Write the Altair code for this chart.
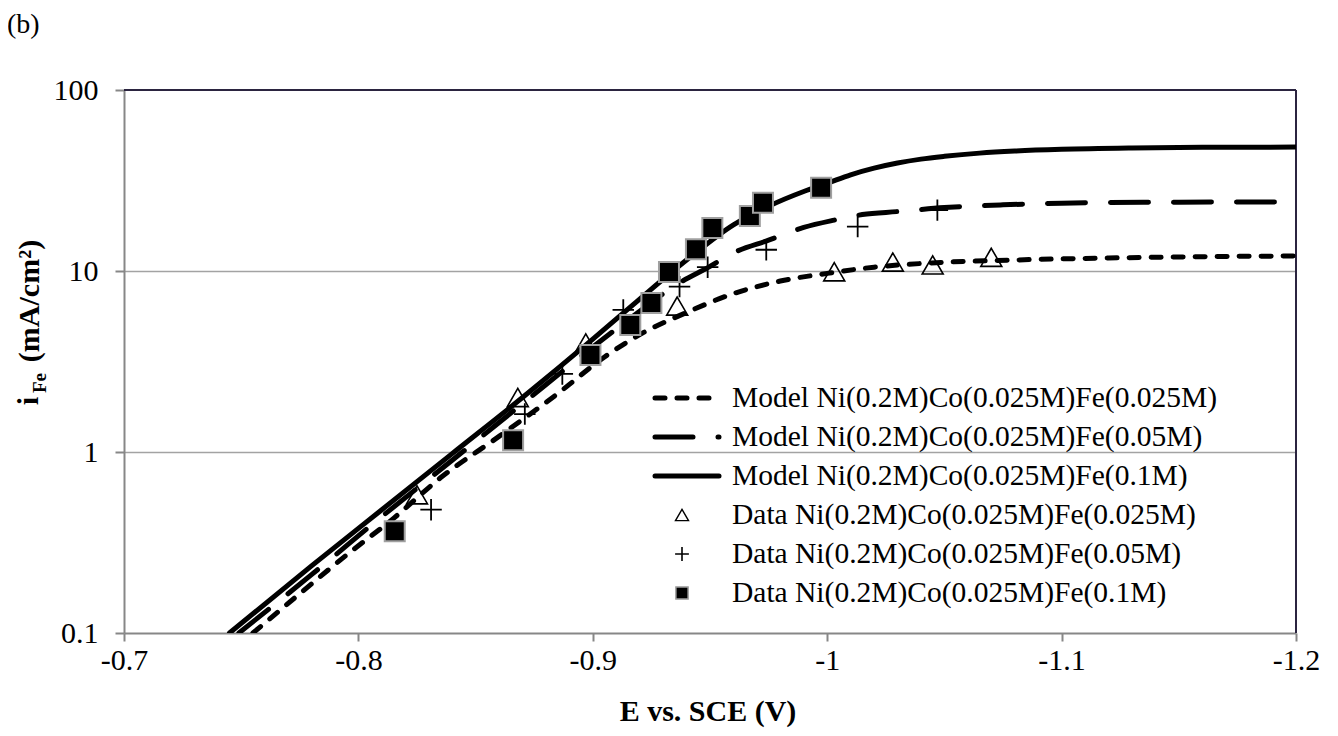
import altair as alt
import pandas as pd

# ---------------- data ----------------
# Model curves (E in V vs SCE, i_Fe in mA/cm2)
model_025_E = [-0.755, -0.775, -0.795, -0.815, -0.835, -0.86, -0.885, -0.905, -0.92, -0.94,
               -0.96, -0.98, -1.00, -1.02, -1.04, -1.08, -1.12, -1.16, -1.20]
model_025_i = [0.10, 0.165, 0.27, 0.43, 0.72, 1.22, 2.1, 3.35, 4.45, 5.9,
               7.5, 8.8, 9.7, 10.5, 11.0, 11.5, 11.8, 12.0, 12.1]

model_05_E = [-0.749, -0.78, -0.81, -0.84, -0.87, -0.90, -0.92, -0.935, -0.95, -0.96,
              -0.975, -0.99, -1.003, -1.015, -1.03, -1.05, -1.075, -1.10, -1.15, -1.20]
model_05_i = [0.10, 0.21, 0.44, 0.90, 1.85, 3.8, 6.0, 8.3, 10.6, 12.6,
              14.8, 17.4, 19.1, 20.5, 21.3, 22.4, 23.2, 23.7, 24.0, 24.1]

model_1_E = [-0.745, -0.78, -0.81, -0.84, -0.87, -0.90, -0.92, -0.94, -0.96, -0.975,
             -0.99, -1.00, -1.01, -1.02, -1.03, -1.04, -1.05, -1.065, -1.08, -1.10,
             -1.13, -1.16, -1.20]
model_1_i = [0.10, 0.235, 0.48, 0.98, 2.0, 4.2, 7.0, 11.5, 18.0, 22.8,
             27.5, 30.5, 34.0, 37.0, 39.5, 41.5, 43.0, 44.8, 46.0, 47.0,
             47.8, 48.2, 48.4]

# Measured data
data_025_E = [-0.825, -0.868, -0.897, -0.936, -1.003, -1.028, -1.045, -1.070]
data_025_i = [0.58, 2.0, 4.0, 6.4, 9.9, 11.2, 10.8, 11.9]

data_05_E = [-0.831, -0.871, -0.887, -0.913, -0.937, -0.949, -0.974, -1.013, -1.047]
data_05_i = [0.48, 1.62, 2.7, 6.1, 8.2, 10.5, 13.1, 17.6, 21.7]

data_1_E = [-0.8155, -0.866, -0.899, -0.916, -0.925, -0.9325, -0.944, -0.951, -0.967, -0.9726, -0.9974]
data_1_i = [0.365, 1.16, 3.43, 5.03, 6.66, 9.87, 13.2, 17.3, 20.1, 23.8, 28.8]

legend_labels = [
    "Model Ni(0.2M)Co(0.025M)Fe(0.025M)",
    "Model Ni(0.2M)Co(0.025M)Fe(0.05M)",
    "Model Ni(0.2M)Co(0.025M)Fe(0.1M)",
    "Data Ni(0.2M)Co(0.025M)Fe(0.025M)",
    "Data Ni(0.2M)Co(0.025M)Fe(0.05M)",
    "Data Ni(0.2M)Co(0.025M)Fe(0.1M)",
]

x_ticks = [-0.7, -0.8, -0.9, -1.0, -1.1, -1.2]
y_ticks = [0.1, 1, 10, 100]

# ---------------- styling ----------------
W, H = 1172, 543
FONT = "Liberation Serif"
AXIS_GRAY = "#878787"
GRID_GRAY = "#a3a3a3"
BORDER = "#2b2440"
SHORT_DASH = [10, 12]
LONG_DASH = [38, 25]
PLUS = "M-1,0L1,0M0,-1L0,1"

xs = alt.Scale(domain=[-1.2, -0.7], reverse=True, nice=False, zero=False)
ys = alt.Scale(type="log", domain=[0.1, 100], nice=False)

xaxis = alt.Axis(values=x_ticks, labelExpr="'-' + format(-datum.value, '~g')", title=None,
                 grid=False, tickSize=8, tickColor=AXIS_GRAY, tickWidth=2,
                 domainColor=AXIS_GRAY, domainWidth=2, labelFont=FONT, labelFontSize=30,
                 labelColor="black", labelPadding=4, labelFlush=False, labelOverlap=False)
yaxis = alt.Axis(values=y_ticks, labelExpr="format(datum.value, '~g')", title=None,
                 grid=True, gridColor=GRID_GRAY, gridWidth=1.5,
                 gridOpacity={"condition": {"test": "datum.value > 50 || datum.value < 0.2", "value": 0}, "value": 1},
                 tickSize=9, tickColor=AXIS_GRAY, tickWidth=2,
                 domainColor=AXIS_GRAY, domainWidth=2, labelFont=FONT, labelFontSize=30,
                 labelColor="black", labelPadding=17, labelFlush=False, labelOverlap=False)


def enc(chart):
    return chart.encode(x=alt.X("E:Q", scale=xs, axis=xaxis), y=alt.Y("i:Q", scale=ys, axis=yaxis))


def model_layer(E, I, dash=None):
    kw = dict(color="black", strokeWidth=5, strokeCap="round", strokeJoin="round",
              interpolate="monotone", clip=True)
    if dash is not None:
        kw["strokeDash"] = dash
    return enc(alt.Chart(pd.DataFrame({"E": E, "i": I})).mark_line(**kw))


layers = []
# frame (top and right border)
frame_df = pd.DataFrame({"k": [0]})
layers.append(alt.Chart(frame_df).mark_rule(color=BORDER, strokeWidth=2).encode(
    x=alt.value(0), x2=alt.value(W), y=alt.value(0)))
layers.append(alt.Chart(frame_df).mark_rule(color=BORDER, strokeWidth=2).encode(
    x=alt.value(W), y=alt.value(0), y2=alt.value(H)))

layers.append(model_layer(model_025_E, model_025_i, SHORT_DASH))
layers.append(model_layer(model_05_E, model_05_i, LONG_DASH))
layers.append(model_layer(model_1_E, model_1_i))

layers.append(enc(alt.Chart(pd.DataFrame({"E": data_025_E, "i": data_025_i})).mark_point(
    shape="triangle-up", size=440, filled=False, stroke="black", strokeWidth=1.6, opacity=1)))
layers.append(enc(alt.Chart(pd.DataFrame({"E": data_05_E, "i": data_05_i})).mark_point(
    shape=PLUS, size=460, filled=False, stroke="black", strokeWidth=1.8, opacity=1)))
layers.append(enc(alt.Chart(pd.DataFrame({"E": data_1_E, "i": data_1_i})).mark_point(
    shape="square", size=400, filled=True, fill="black", stroke="#a0a0a0", strokeWidth=2,
    opacity=1, fillOpacity=1, strokeOpacity=1)))

# ---------------- legend (drawn manually) ----------------
LEG_X0, LEG_X1, LEG_MX, LEG_TX = 531, 595, 558, 608
row_y = [308 + 39 * k for k in range(6)]
dashes = [SHORT_DASH, LONG_DASH, None]
for k in range(3):
    kw = dict(color="black", strokeWidth=5, strokeCap="round")
    if dashes[k] is not None:
        kw["strokeDash"] = dashes[k]
    layers.append(alt.Chart(frame_df).mark_rule(**kw).encode(
        x=alt.value(LEG_X0), x2=alt.value(LEG_X1), y=alt.value(row_y[k])))
marker_specs = [
    dict(shape="triangle-up", size=170, filled=False, stroke="black", strokeWidth=1.4),
    dict(shape=PLUS, size=190, filled=False, stroke="black", strokeWidth=1.6),
    dict(shape="square", size=150, filled=True, fill="black", stroke="#a0a0a0", strokeWidth=1.5),
]
for k in range(3):
    layers.append(alt.Chart(frame_df).mark_point(opacity=1, **marker_specs[k]).encode(
        x=alt.value(LEG_MX), y=alt.value(row_y[3 + k])))
for k in range(6):
    layers.append(alt.Chart(pd.DataFrame({"t": [legend_labels[k]]})).mark_text(
        align="left", baseline="middle", font=FONT, fontSize=29.5, color="black").encode(
        x=alt.value(LEG_TX), y=alt.value(row_y[k]), text="t:N"))

# ---------------- titles ----------------
def label(txt, x, y, size, weight="normal", angle=0, align="center"):
    kw = dict(align=align, baseline="middle", font=FONT, fontSize=size, fontWeight=weight, color="black")
    if angle:
        kw["angle"] = angle
    return alt.Chart(pd.DataFrame({"t": [txt]})).mark_text(**kw).encode(
        x=alt.value(x), y=alt.value(y), text="t:N")

layers.append(label("(b)", -117, -65, 28, align="left"))
layers.append(label("E vs. SCE (V)", 584, 622, 30, weight="bold"))
layers.append(label("(mA/cm²)", -94, 211, 30, weight="bold", angle=270))
layers.append(label("Fe", -84, 293, 19, weight="bold", angle=270))
layers.append(label("i", -95, 311, 30, weight="bold", angle=270))

chart = alt.layer(*layers).properties(
    width=W, height=H,
    padding={"left": 116, "top": 82, "right": 30, "bottom": 100},
    autosize=alt.AutoSizeParams(type="none"),
    background="white",
).configure_view(strokeWidth=0)

chart.save("out.html", embed_options={"renderer": "svg", "actions": False})
